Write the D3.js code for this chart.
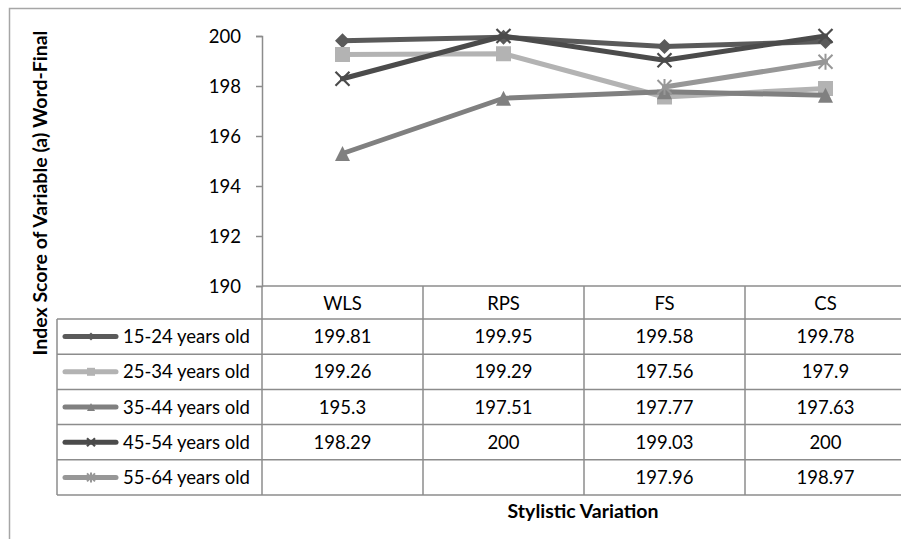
<!DOCTYPE html>
<html>
<head>
<meta charset="utf-8">
<script src="https://cdn.jsdelivr.net/npm/d3@7"></script>
<style>
  body { margin: 0; background: #fff; }
  svg { display: block; font-family: Lato, "Liberation Sans", Arial, sans-serif; }
</style>
</head>
<body>
<script>
// categories and series
var categories = ["WLS", "RPS", "FS", "CS"];
var seriesNames = ["15-24 years old", "25-34 years old", "35-44 years old", "45-54 years old", "55-64 years old"];
var s1524 = [199.81, 199.95, 199.58, 199.78];
var s2534 = [199.26, 199.29, 197.56, 197.9];
var s3544 = [195.3, 197.51, 197.77, 197.63];
var s4554 = [198.29, 200, 199.03, 200];
var s5564 = [null, null, 197.96, 198.97];
var yTicks = [190, 192, 194, 196, 198, 200];

var allSeries = [s1524, s2534, s3544, s4554, s5564];
var colors = ["#5a5a5a", "#b3b3b3", "#808080", "#4b4b4b", "#979797"];
var markers = ["diamond", "square", "triangle", "x", "star"];

var width = 901, height = 539;
var svg = d3.select("body").append("svg").attr("width", width).attr("height", height);

// outer chart border (only top/left show, the rest runs past the crop)
svg.append("path").attr("d", "M9.5,539 V8.5 H901").attr("fill", "none").attr("stroke", "#a6a6a6").attr("stroke-width", 1.5);

var x = d3.scaleBand().domain(categories).range([262, 906]);
var y = d3.scaleLinear().domain([190, 200]).range([286, 36]);
var gridColor = "#8c8c8c";
var fs = 18.5;

// y axis
var yAxis = svg.append("g").attr("transform", "translate(262,0)")
  .call(d3.axisLeft(y).tickValues(yTicks).tickSize(6).tickFormat(d3.format("d")));
yAxis.select(".domain").attr("stroke", gridColor).attr("stroke-width", 1.5);
yAxis.selectAll(".tick line").attr("stroke", gridColor).attr("stroke-width", 1.5);
yAxis.selectAll(".tick text").attr("font-size", fs).attr("fill", "#000").attr("x", -21).attr("dy", "0.36em")
  .attr("font-family", "Lato, Liberation Sans, Arial, sans-serif");

svg.append("text")
  .attr("transform", "translate(47,193) rotate(-90)")
  .attr("text-anchor", "middle").attr("font-size", 19.5).attr("font-weight", "bold")
  .text("Index  Score of Variable (a) Word-Final");

// data table
var headTop = y(190), rowTop = 319, rowH = 35.2, tableLeft = 57;
var rowY = function(i) { return rowTop + i * rowH; };
var tbl = svg.append("g").attr("stroke", gridColor).attr("stroke-width", 1.5).attr("fill", "none");
tbl.append("line").attr("x1", 262).attr("x2", 906).attr("y1", headTop).attr("y2", headTop);
tbl.append("line").attr("x1", tableLeft).attr("x2", 906).attr("y1", rowTop).attr("y2", rowTop);
seriesNames.forEach(function(n, i) {
  tbl.append("line").attr("x1", tableLeft).attr("x2", 906).attr("y1", rowY(i + 1)).attr("y2", rowY(i + 1));
});
tbl.append("line").attr("x1", tableLeft).attr("x2", tableLeft).attr("y1", rowTop).attr("y2", rowY(5));
categories.forEach(function(c) {
  tbl.append("line").attr("x1", x(c) + x.bandwidth()).attr("x2", x(c) + x.bandwidth())
    .attr("y1", headTop).attr("y2", rowY(5));
});
tbl.append("line").attr("x1", 262).attr("x2", 262).attr("y1", headTop).attr("y2", rowY(5));

svg.append("g").selectAll("text").data(categories).enter().append("text")
  .attr("x", function(d) { return x(d) + x.bandwidth() / 2; })
  .attr("y", 310)
  .attr("text-anchor", "middle").attr("font-size", fs).text(function(d) { return d; });

var fmt = function(v) { return v == null ? "" : String(v); };
allSeries.forEach(function(vals, i) {
  var g = svg.append("g");
  var cy = rowY(i) + rowH / 2;
  g.selectAll("text").data(vals).enter().append("text")
    .attr("x", function(d, j) { return x(categories[j]) + x.bandwidth() / 2; })
    .attr("y", cy + 6.5)
    .attr("text-anchor", "middle").attr("font-size", fs).text(fmt);
  g.append("text").attr("x", 123).attr("y", cy + 6.5)
    .attr("font-size", fs).text(seriesNames[i]);
  // legend key line
  g.append("line").attr("x1", 65).attr("x2", 116).attr("y1", cy).attr("y2", cy)
    .attr("stroke", colors[i]).attr("stroke-width", 5).attr("stroke-linecap", "round");
});

svg.append("text").attr("x", 583).attr("y", 518).attr("text-anchor", "middle")
  .attr("font-size", 19.5).attr("font-weight", "bold").text("Stylistic Variation");

// marker drawing
function drawMarker(g, type, cx, cy, s, col) {
  var h = s / 2;
  if (type === "diamond") {
    g.append("path").attr("d", "M" + cx + "," + (cy - h) + "L" + (cx + h) + "," + cy + "L" + cx + "," + (cy + h) + "L" + (cx - h) + "," + cy + "Z").attr("fill", col);
  } else if (type === "square") {
    g.append("rect").attr("x", cx - h).attr("y", cy - h).attr("width", s).attr("height", s).attr("fill", col);
  } else if (type === "triangle") {
    g.append("path").attr("d", "M" + cx + "," + (cy - h) + "L" + (cx + h) + "," + (cy + h) + "L" + (cx - h) + "," + (cy + h) + "Z").attr("fill", col);
  } else if (type === "x") {
    g.append("path").attr("d", "M" + (cx - h) + "," + (cy - h) + "L" + (cx + h) + "," + (cy + h) + "M" + (cx + h) + "," + (cy - h) + "L" + (cx - h) + "," + (cy + h))
      .attr("stroke", col).attr("stroke-width", 2.2).attr("fill", "none");
  } else if (type === "star") {
    g.append("path").attr("d", "M" + (cx - h) + "," + (cy - h) + "L" + (cx + h) + "," + (cy + h) + "M" + (cx + h) + "," + (cy - h) + "L" + (cx - h) + "," + (cy + h) + "M" + cx + "," + (cy - h - 1) + "L" + cx + "," + (cy + h + 1))
      .attr("stroke", col).attr("stroke-width", 2).attr("fill", "none");
  }
}

// legend key markers in the table
allSeries.forEach(function(vals, i) {
  drawMarker(svg.append("g"), markers[i], 91, rowY(i) + rowH / 2, 8, colors[i]);
});

// lines + markers
var line = d3.line()
  .defined(function(d) { return d != null; })
  .x(function(d, j) { return x(categories[j]) + x.bandwidth() / 2; })
  .y(function(d) { return y(d); });

allSeries.forEach(function(vals, i) {
  var g = svg.append("g");
  g.append("path").datum(vals).attr("d", line).attr("fill", "none")
    .attr("stroke", colors[i]).attr("stroke-width", 5).attr("stroke-linejoin", "round").attr("stroke-linecap", "round");
  vals.forEach(function(v, j) {
    if (v == null) return;
    var isLine = markers[i] === "x" || markers[i] === "star";
    drawMarker(g, markers[i], x(categories[j]) + x.bandwidth() / 2, y(v), isLine ? 14 : 15, colors[i]);
  });
});
</script>
</body>
</html>
